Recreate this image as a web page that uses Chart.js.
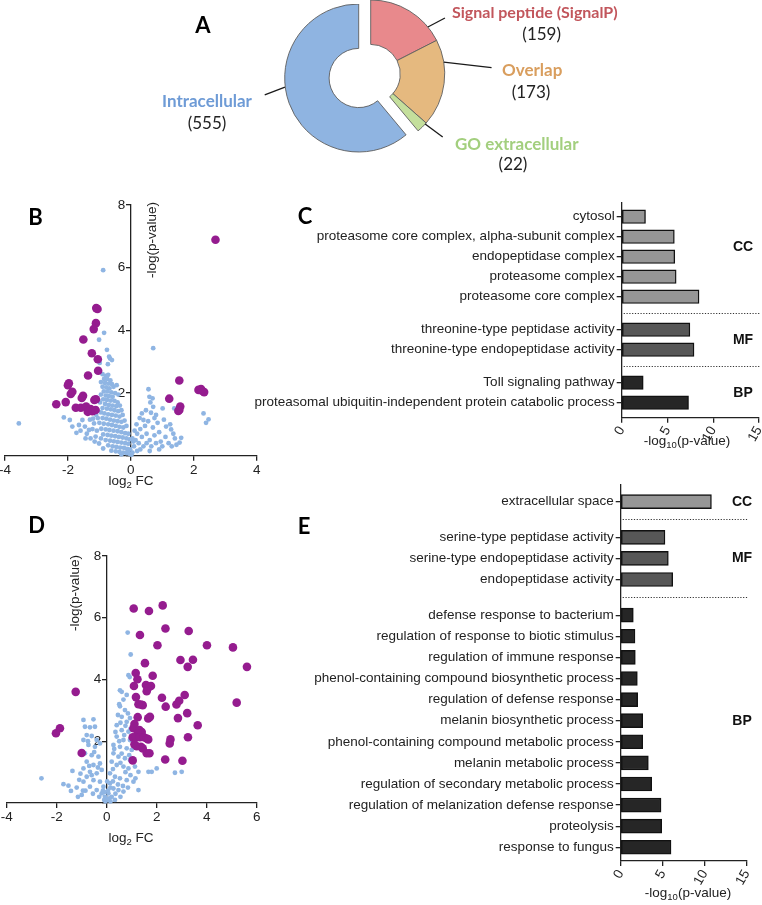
<!DOCTYPE html>
<html>
<head>
<meta charset="utf-8">
<script src="https://cdn.jsdelivr.net/npm/chart.js@4.4.0/dist/chart.umd.min.js"></script>
<style>
html,body{margin:0;padding:0;background:#fff;}
body{width:762px;height:905px;position:relative;overflow:hidden;font-family:"Liberation Sans",Arial,Helvetica,sans-serif;}
canvas{position:absolute;}
.lbl{position:absolute;white-space:nowrap;line-height:1;}
.ax{font-family:"Liberation Sans",Arial,sans-serif;font-size:13.5px;color:#222;}
.ax sub{font-size:9.5px;vertical-align:-3px;line-height:0;}
.pl{font-family:Lato,"Open Sans",sans-serif;font-weight:700;font-size:22px;color:#000;}
.dl{font-family:Lato,"Open Sans",sans-serif;font-weight:700;font-size:17px;}
.dc{font-family:Lato,"Open Sans",sans-serif;font-weight:400;font-size:17px;color:#222;}
</style>
</head>
<body>
<script>
// ---------------- DATA ----------------
// Panel A
const donutLabels = ['Signal peptide (SignalP)', 'Overlap', 'GO extracellular', 'Intracellular'];
const donutCounts = [159, 173, 22, 555];

// Panel B volcano: [log2 FC, -log(p)]
const bSigPts = [
  [2.69,6.89],[-1.10,4.71],[-1.06,4.68],[-1.11,4.23],[-1.18,4.04],[-1.51,3.71],[-1.24,3.27],[-1.05,3.08],
  [-1.04,2.71],[-1.36,2.56],[-1.97,2.31],[-2.00,2.25],[-1.86,2.04],[-1.91,1.97],[-1.52,1.91],[-1.56,1.84],
  [-1.11,1.80],[-1.16,1.78],[-2.37,1.64],[-2.07,1.71],[-1.75,1.53],[-1.59,1.53],[-1.42,1.57],[-1.28,1.49],
  [-1.37,1.40],[-1.22,1.42],[-1.12,1.46],[1.54,2.40],[1.22,1.82],[1.57,1.57],[1.54,1.46],[1.51,1.43],
  [2.15,2.10],[2.23,2.13],[2.33,2.03],[2.26,2.07]
];
const bOtherPts = [
  [-0.88,5.92],[-0.85,3.92],[-1.01,3.70],[0.71,3.43],[-0.76,3.38],[-0.69,3.16],[-0.66,3.10],[-0.99,2.96],[-0.73,2.92],[-0.60,3.05],
  [-0.90,2.60],[-0.80,2.55],[-0.72,2.58],[-0.85,2.45],[-0.75,2.45],[-0.65,2.40],[-0.95,2.35],[-0.82,2.32],[-0.70,2.30],[-0.60,2.28],
  [-0.90,2.20],[-0.78,2.18],[-0.68,2.15],[-0.55,2.20],[-0.45,2.25],[-0.86,2.05],[-0.74,2.05],[-0.62,2.02],[-0.50,2.00],[-0.95,1.95],
  [-0.80,1.92],[-0.70,1.90],[-0.58,1.88],[-0.40,1.95],[-0.88,1.80],[-0.76,1.78],[-0.64,1.76],[-0.52,1.75],[-0.42,1.70],[-0.98,1.70],
  [-0.82,1.65],[-0.70,1.62],[-0.58,1.60],[-0.46,1.58],[-0.35,1.60],[-0.90,1.52],[-0.76,1.50],[-0.64,1.48],[-0.52,1.45],[-0.40,1.42],
  [-0.30,1.45],[-0.95,1.38],[-0.84,1.35],[-0.72,1.32],[-0.60,1.30],[-0.48,1.28],[-0.36,1.25],[-0.26,1.30],[-0.90,1.20],[-0.78,1.18],
  [-0.66,1.15],[-0.54,1.12],[-0.42,1.10],[-0.30,1.08],[-0.20,1.12],[-1.00,1.05],[-0.86,1.02],[-0.72,1.00],[-0.60,0.98],[-0.48,0.95],
  [-0.36,0.92],[-0.24,0.90],[-0.14,0.95],[-0.94,0.86],[-0.80,0.84],[-0.68,0.82],[-0.55,0.80],[-0.42,0.78],[-0.30,0.75],[-0.18,0.72],
  [-0.08,0.70],[-0.88,0.68],[-0.74,0.66],[-0.62,0.64],[-0.50,0.62],[-0.38,0.60],[-0.26,0.58],[-0.14,0.55],[-0.04,0.52],[-0.80,0.50],
  [-0.66,0.48],[-0.54,0.46],[-0.42,0.44],[-0.30,0.42],[-0.18,0.40],[-0.08,0.38],[-0.72,0.33],[-0.58,0.30],[-0.46,0.28],[-0.34,0.26],
  [-0.22,0.25],[-0.12,0.22],[-0.02,0.20],[-0.62,0.16],[-0.48,0.14],[-0.36,0.12],[-0.24,0.10],[-0.14,0.08],[-0.05,0.06],[0.02,0.03],
  [-0.30,0.04],[-0.10,0.15],[0.05,0.10],
  [-3.56,1.03],[-2.13,1.22],[-1.94,1.14],[-1.86,0.93],[-1.73,0.73],[-1.65,0.98],[-1.54,1.14],[-1.46,0.93],[-1.44,0.55],[-1.28,0.55],
  [-1.33,0.82],[-1.17,1.03],[-1.12,0.61],[-1.01,0.39],[-0.88,0.23],[-1.60,0.80],[-1.40,0.70],[-1.22,0.85],[-1.08,0.80],[-1.20,1.18],
  [-1.10,1.30],[-1.30,1.15],[-1.05,1.20],[-1.15,0.45],[-0.95,0.55],
  [0.56,2.12],[0.59,1.88],[0.69,1.83],[0.71,1.56],[0.64,1.37],[0.80,1.30],[1.01,1.51],[1.38,1.51],[0.40,1.14],[1.12,0.93],[1.28,0.84],
  [1.40,0.55],[1.60,0.57],[2.31,1.35],[2.47,1.16],[2.39,1.05],[0.10,0.30],[0.15,0.50],[0.20,0.70],[0.25,0.40],[0.30,0.85],[0.35,0.60],
  [0.45,0.95],[0.50,0.70],[0.55,1.10],[0.60,0.50],[0.70,0.90],[0.75,0.65],[0.85,1.05],[0.90,0.75],[0.95,0.45],[1.05,1.15],[1.10,0.60],
  [1.20,0.40],[1.25,1.00],[1.35,0.70],[1.45,0.35],[0.65,0.30],[0.40,0.30],[0.20,0.15],[0.30,0.20],[0.50,0.40],[0.80,0.40],[1.00,0.30],
  [0.12,0.80],[0.18,1.00],[0.28,1.20],[0.05,0.55],[0.08,0.45],[0.35,1.35],[0.48,1.45],[0.62,1.70],[0.75,1.20],[1.55,0.42],[1.30,0.30],
  [0.90,0.20],[0.60,0.15]
];
const bXTicks = [-4, -2, 0, 2, 4];

// Panel D volcano
const dSigPts = [
  [-1.24,3.60],[-2.03,2.26],[-1.87,2.42],[-1.00,1.62],
  [1.08,6.30],[1.69,6.22],[2.24,6.40],[1.33,5.44],[2.35,5.65],[3.28,5.57],[2.03,5.11],[4.01,5.11],[5.05,5.04],
  [1.53,4.53],[2.95,4.63],[3.45,4.64],[3.24,4.41],[5.61,4.41],[1.16,4.21],[1.84,4.12],[1.23,4.01],[1.09,3.79],
  [1.57,3.82],[1.77,3.79],[1.64,3.71],[1.60,3.62],[1.17,3.43],[1.36,3.19],[1.44,3.17],[1.27,3.20],[2.21,3.41],
  [2.36,3.12],[2.79,3.19],[2.90,3.31],[3.12,3.50],[5.20,3.25],[3.22,2.91],[1.24,2.78],[1.73,2.79],[1.66,2.74],
  [2.85,2.75],[1.11,2.56],[1.07,2.42],[3.64,2.52],[1.31,2.36],[1.40,2.30],[1.24,2.26],[1.04,2.13],[1.17,2.13],
  [1.33,2.13],[1.49,2.13],[1.60,2.09],[1.66,2.06],[2.55,2.06],[2.52,1.93],[3.25,2.13],[1.11,1.90],[1.20,1.84],
  [1.37,1.82],[1.44,1.77],[1.60,1.61],[1.71,1.61],[1.04,1.38],[2.34,1.41],[3.03,1.37]
];
const dOtherPts = [
  [0.84,5.52],[0.96,4.81],[0.87,4.14],[0.92,4.08],[0.53,3.65],[0.60,3.60],[0.80,3.50],[0.67,3.35],[0.53,3.13],[0.73,3.01],[0.50,3.20],
  [0.60,2.79],[0.85,2.90],[0.93,2.75],[0.45,2.85],[0.80,2.63],[0.40,2.52],[0.75,2.50],[0.95,2.40],[0.55,2.60],[0.60,2.36],[0.87,2.31],
  [0.40,2.15],[0.67,2.04],[0.93,2.04],[0.70,2.20],[0.35,2.30],[0.27,1.88],[0.53,1.82],[0.80,1.77],[1.00,1.72],[0.50,2.00],[0.30,1.75],
  [0.27,1.61],[0.47,1.50],[0.73,1.45],[0.93,1.39],[0.60,1.60],[0.90,1.55],[0.20,1.34],[0.40,1.23],[0.67,1.18],[0.87,1.12],[1.13,1.18],
  [0.55,1.30],[0.25,1.10],[1.27,1.01],[1.67,1.01],[1.80,1.01],[2.00,1.12],[2.73,0.98],[3.00,1.01],[0.13,0.96],[0.33,0.85],[0.53,0.80],
  [0.80,0.74],[1.07,0.69],[0.75,1.00],[0.95,0.90],[1.15,0.80],[1.27,0.42],[0.13,0.64],[0.27,0.47],[0.47,0.42],[0.67,0.37],[0.45,0.60],
  [0.65,0.55],[0.85,0.50],[0.07,0.31],[0.20,0.20],[0.33,0.10],[0.00,0.10],[0.35,0.30],[0.55,0.20],[0.15,0.50],[0.10,0.15],[0.25,0.70],
  [0.15,0.05],[-0.05,0.05],[0.05,0.40],[-0.10,0.10],[0.02,0.70],[-0.15,0.40],
  [-0.93,2.69],[-0.53,2.71],[-0.87,2.47],[-0.67,2.45],[-0.47,2.47],[-0.80,2.20],[-0.60,2.17],[-0.93,2.04],[-0.40,2.04],[-0.73,1.88],
  [-0.47,1.82],[-0.27,1.93],[-0.87,1.61],[-0.60,1.55],[-0.33,1.50],[-0.80,1.34],[-0.53,1.23],[-0.27,1.28],[-0.93,1.12],[-0.67,1.01],
  [-0.40,0.96],[-0.20,1.07],[-0.80,0.85],[-0.53,0.74],[-0.27,0.69],[-0.13,0.53],[-0.93,0.69],[-0.67,0.53],[-0.40,0.42],[-0.20,0.31],
  [-0.07,0.20],[-0.75,2.00],[-0.50,1.65],[-0.70,1.20],[-0.35,1.15],[-0.60,0.90],[-0.85,0.40],[-0.55,0.30],[-0.30,0.20],[-0.10,0.35],
  [-2.61,0.80],[-1.73,0.61],[-1.53,0.56],[-1.37,1.04],[-1.43,0.39],[-1.00,0.26],[-1.20,0.50],[-1.10,0.75],[-1.15,0.20],[-0.95,0.40],[-1.05,0.95]
];
const dXTicks = [-4, -2, 0, 2, 4, 6];
const volcanoYTicks = [0, 2, 4, 6, 8];

// Panel C GO enrichment
const goGroupNames = ['CC', 'MF', 'BP'];
const cTermsCC = ['cytosol', 'proteasome core complex, alpha-subunit complex', 'endopeptidase complex', 'proteasome complex', 'proteasome core complex'];
const cValsCC = [2.6, 5.75, 5.8, 5.95, 8.45];
const cTermsMF = ['threonine-type peptidase activity', 'threonine-type endopeptidase activity'];
const cValsMF = [7.45, 7.9];
const cTermsBP = ['Toll signaling pathway', 'proteasomal ubiquitin-independent protein catabolic process'];
const cValsBP = [2.35, 7.3];

// Panel E GO enrichment
const eTermsCC = ['extracellular space'];
const eValsCC = [10.8];
const eTermsMF = ['serine-type peptidase activity', 'serine-type endopeptidase activity', 'endopeptidase activity'];
const eValsMF = [5.27, 5.67, 6.19];
const eTermsBP = ['defense response to bacterium', 'regulation of response to biotic stimulus', 'regulation of immune response',
  'phenol-containing compound biosynthetic process', 'regulation of defense response', 'melanin biosynthetic process',
  'phenol-containing compound metabolic process', 'melanin metabolic process', 'regulation of secondary metabolic process',
  'regulation of melanization defense response', 'proteolysis', 'response to fungus'];
const eValsBP = [1.5, 1.7, 1.74, 1.98, 2.02, 2.62, 2.62, 3.29, 3.69, 4.8, 4.88, 5.99];
const goXTicks = [0, 5, 10, 15];

// ---------------- STYLE ----------------
const FONT = '"Liberation Sans", Arial, Helvetica, sans-serif';
Chart.defaults.font.family = FONT;
Chart.defaults.font.size = 13.5;
Chart.defaults.color = '#222';
Chart.defaults.animation = false;
Chart.defaults.responsive = false;
Chart.defaults.devicePixelRatio = 1;
Chart.defaults.plugins.legend.display = false;
Chart.defaults.plugins.tooltip.enabled = false;

const donutFill = ['#e8898c', '#e5b97f', '#c4df9c', '#8fb4e1'];
const donutText = ['#c2565c', '#d99e5e', '#a3cf7e', '#6e9bd6'];
const groupFill = ['#969696', '#575757', '#262626'];
const AXC = '#222';

function mkCanvas(left, top, w, h) {
  const c = document.createElement('canvas');
  c.width = w; c.height = h;
  c.style.left = left + 'px'; c.style.top = top + 'px';
  c.style.width = w + 'px'; c.style.height = h + 'px';
  document.body.appendChild(c);
  return c;
}
function addText(html, x, y, o) {
  o = o || {};
  const d = document.createElement('div');
  d.className = 'lbl ' + (o.cls || '');
  d.innerHTML = html;
  d.style.left = x + 'px'; d.style.top = y + 'px';
  if (o.color) d.style.color = o.color;
  if (o.size) d.style.fontSize = o.size + 'px';
  const tx = o.anchor === 'left' ? '0' : '-50%';
  d.style.transform = 'translate(' + tx + ',-50%)' + (o.rotate ? ' rotate(' + o.rotate + 'deg)' : '');
  document.body.appendChild(d);
}

// ---------------- PANEL A ----------------
const total = donutCounts.reduce((a, b) => a + b, 0);
const explodeIdx = 3, explodeDist = 13;
let before = 0; for (let i = 0; i < explodeIdx; i++) before += donutCounts[i];
const midAng = -Math.PI / 2 + (before + donutCounts[explodeIdx] / 2) / total * 2 * Math.PI;
const exDx = Math.cos(midAng) * explodeDist, exDy = Math.sin(midAng) * explodeDist;

const leaderSpecs = [
  {i: 0, a1: 50.6, a2: 53, r2: 93},
  {i: 1, a1: 80.8, a2: 87, r2: 121},
  {i: 2, a1: 132.6, a2: 131.2, r2: 95.7},
  {i: 3, a1: 263.3, a2: 260, r2: 95.2}
];
const leaderPlugin = {
  id: 'leaders',
  afterDatasetsDraw(chart) {
    const ctx = chart.ctx, arcs = chart.getDatasetMeta(0).data;
    ctx.save(); ctx.strokeStyle = '#1a1a1a'; ctx.lineWidth = 1.3;
    leaderSpecs.forEach(s => {
      const arc = arcs[s.i];
      let cx = arc.x, cy = arc.y;
      if (s.i === explodeIdx) { cx += exDx; cy += exDy; }
      const p1 = (s.a1 - 90) * Math.PI / 180, p2 = (s.a2 - 90) * Math.PI / 180;
      const R = arc.outerRadius;
      ctx.beginPath();
      ctx.moveTo(cx + R * Math.cos(p1), cy + R * Math.sin(p1));
      ctx.lineTo(cx + s.r2 * Math.cos(p2), cy + s.r2 * Math.sin(p2));
      ctx.stroke();
    });
    ctx.restore();
  }
};
function donutConfig(show, plugins) {
  const T = 'rgba(0,0,0,0)';
  return {
    type: 'doughnut',
    data: {labels: donutLabels, datasets: [{
      data: donutCounts,
      backgroundColor: donutFill.map((c, i) => show(i) ? c : T),
      borderColor: donutFill.map((c, i) => show(i) ? '#5e5e5e' : T),
      borderWidth: 0.9, radius: 74, cutout: '40%'
    }]},
    options: {radius: 74, cutout: '40%', layout: {padding: {left: 0, right: 20.6, top: 0, bottom: 37}}},
    plugins: plugins || []
  };
}
new Chart(mkCanvas(0, 0, 762, 185), donutConfig(i => i !== explodeIdx, [leaderPlugin]));
new Chart(mkCanvas(exDx, exDy, 762, 185), donutConfig(i => i === explodeIdx));

addText(donutLabels[0], 452, 12, {anchor: 'left', cls: 'dl', color: donutText[0], size: 16});
addText('(' + donutCounts[0] + ')', 541.7, 33, {cls: 'dc'});
addText(donutLabels[1], 502, 69, {anchor: 'left', cls: 'dl', color: donutText[1]});
addText('(' + donutCounts[1] + ')', 531, 91, {cls: 'dc'});
addText(donutLabels[2], 455, 142.5, {anchor: 'left', cls: 'dl', color: donutText[2]});
addText('(' + donutCounts[2] + ')', 513, 163, {cls: 'dc'});
addText(donutLabels[3], 207, 100, {cls: 'dl', color: donutText[3]});
addText('(' + donutCounts[3] + ')', 207, 122, {cls: 'dc'});

// ---------------- VOLCANO (B, D) ----------------
const yLabelPlugin = {
  id: 'yLab',
  beforeDatasetsDraw(chart) {
    const ctx = chart.ctx, y = chart.scales.y, x = chart.scales.x;
    const ax = x.getPixelForValue(0);
    ctx.save();
    ctx.font = '13.5px ' + FONT; ctx.fillStyle = '#222';
    ctx.textAlign = 'right'; ctx.textBaseline = 'middle';
    y.ticks.forEach(t => { if (t.value !== 0) ctx.fillText(String(t.value), ax - 5.5, y.getPixelForValue(t.value)); });
    ctx.restore();
  }
};
function volcano(canvas, other, sig, xTicks, padding) {
  return new Chart(canvas, {
    type: 'scatter',
    data: {datasets: [
      {data: sig.map(p => ({x: p[0], y: p[1]})), backgroundColor: '#951c8f', pointRadius: 4.3, borderWidth: 0, order: 0, clip: false},
      {data: other.map(p => ({x: p[0], y: p[1]})), backgroundColor: '#8fb5e3', pointRadius: 2.4, borderWidth: 0, order: 1, clip: false}
    ]},
    options: {
      layout: {padding: padding},
      scales: {
        x: {type: 'linear', min: xTicks[0], max: xTicks[xTicks.length - 1],
            afterBuildTicks: s => { s.ticks = xTicks.map(v => ({value: v})); },
            ticks: {padding: 1, color: '#222', autoSkip: false},
            grid: {drawOnChartArea: false, tickLength: 5, color: AXC, lineWidth: 1.3},
            border: {color: AXC, width: 1.3},
            afterFit: s => { s.height = 25; }},
        y: {type: 'linear', min: volcanoYTicks[0], max: volcanoYTicks[volcanoYTicks.length - 1], position: {x: 0},
            afterBuildTicks: s => { s.ticks = volcanoYTicks.map(v => ({value: v})); },
            ticks: {display: false},
            grid: {drawOnChartArea: false, tickLength: 4, color: AXC, lineWidth: 1.3},
            border: {color: AXC, width: 1.3}}
      }
    },
    plugins: [yLabelPlugin]
  });
}
volcano(mkCanvas(-20, 180, 300, 310), bOtherPts, bSigPts, bXTicks, {left: 25, right: 23.3, top: 25, bottom: 9.3});
volcano(mkCanvas(-20, 540, 300, 300), dOtherPts, dSigPts, dXTicks, {left: 26.7, right: 23.3, top: 16, bottom: 12});

addText('log<sub>2</sub> FC', 131, 481, {cls: 'ax'});
addText('-log(p-value)', 151.5, 239.5, {cls: 'ax', rotate: -90});
addText('log<sub>2</sub> FC', 131, 838, {cls: 'ax'});
addText('-log(p-value)', 75, 592.5, {cls: 'ax', rotate: -90});

// ---------------- GO BAR CHARTS (C, E) ----------------
const goDecor = {
  id: 'goDecor',
  afterDraw(chart, args, opts) {
    const ctx = chart.ctx, ca = chart.chartArea, y = chart.scales.y;
    ctx.save();
    ctx.strokeStyle = '#333'; ctx.lineWidth = 1; ctx.setLineDash([1.2, 1.6]);
    opts.seps.forEach(s => {
      const py = Math.round(y.getPixelForValue(s)) + 0.5;
      ctx.beginPath(); ctx.moveTo(ca.left + 2, py); ctx.lineTo(ca.right + 1, py); ctx.stroke();
    });
    ctx.setLineDash([]);
    ctx.fillStyle = '#111'; ctx.font = 'bold 14px ' + FONT;
    ctx.textAlign = 'center'; ctx.textBaseline = 'middle';
    opts.labels.forEach(l => ctx.fillText(l.name, opts.labelX, y.getPixelForValue(l.pos)));
    ctx.restore();
  }
};
function goChart(canvas, termGroups, valGroups, cfg) {
  const rows = [], seps = [], labels = [];
  let pos = 0;
  termGroups.forEach((terms, gi) => {
    if (gi > 0) { seps.push(pos - 1 + (1 + cfg.gap) / 2); pos += cfg.gap; }
    const first = pos;
    terms.forEach((t, i) => { rows.push({pos: pos, term: t, value: valGroups[gi][i], color: groupFill[gi]}); pos += 1; });
    labels.push({name: goGroupNames[gi], pos: first + cfg.labelRows[gi]});
  });
  return new Chart(canvas, {
    type: 'bar',
    data: {datasets: [{
      data: rows.map(r => ({x: r.value, y: r.pos})),
      backgroundColor: rows.map(r => r.color),
      borderColor: '#111', borderWidth: 1.4, borderSkipped: false,
      barThickness: cfg.barThickness
    }]},
    options: {
      indexAxis: 'y',
      layout: {padding: cfg.padding},
      scales: {
        x: {type: 'linear', min: goXTicks[0], max: goXTicks[goXTicks.length - 1], offset: false,
            afterBuildTicks: s => { s.ticks = goXTicks.map(v => ({value: v})); },
            ticks: {minRotation: 60, maxRotation: 60, padding: 1, color: '#222', autoSkip: false},
            grid: {drawOnChartArea: false, tickLength: 5, color: AXC, lineWidth: 1.3, offset: false},
            border: {color: AXC, width: 1.3},
            afterFit: s => { s.height = cfg.xAxisH; }},
        y: {type: 'linear', reverse: true, min: -cfg.padStart, max: pos - 1 + cfg.padEnd, offset: false,
            afterBuildTicks: s => { s.ticks = rows.map(r => ({value: r.pos})); },
            ticks: {autoSkip: false, padding: 2, color: '#222', callback: (v, i) => rows[i] ? rows[i].term : ''},
            grid: {drawOnChartArea: false, tickLength: 5, color: AXC, lineWidth: 1.3, offset: false},
            border: {color: AXC, width: 1.3},
            afterFit: s => { s.width = cfg.yAxisW; }}
      },
      plugins: {goDecor: {seps: seps, labels: labels, labelX: cfg.labelX}}
    },
    plugins: [goDecor]
  });
}
goChart(mkCanvas(0, 170, 800, 288), [cTermsCC, cTermsMF, cTermsBP], [cValsCC, cValsMF, cValsBP], {
  gap: 0.65, padStart: 0.685, padEnd: 0.75, barThickness: 13.5, labelRows: [1.5, 0.5, 0.5], labelX: 743,
  yAxisW: 621.7, xAxisH: 40.3, padding: {left: 0, right: 41, top: 33, bottom: 0}
});
goChart(mkCanvas(0, 460, 800, 441), [eTermsCC, eTermsMF, eTermsBP], [eValsCC, eValsMF, eValsBP], {
  gap: 0.69, padStart: 0.79, padEnd: 0.65, barThickness: 14, labelRows: [0, 1, 5], labelX: 742,
  yAxisW: 620.7, xAxisH: 40, padding: {left: 0, right: 53.3, top: 25, bottom: 0}
});
addText('-log<sub>10</sub>(p-value)', 687, 441, {cls: 'ax'});
addText('-log<sub>10</sub>(p-value)', 688, 893, {cls: 'ax'});

// ---------------- PANEL LETTERS ----------------
addText('A', 203, 25, {cls: 'pl'});
addText('B', 35.5, 217, {cls: 'pl'});
addText('C', 305, 216, {cls: 'pl'});
addText('D', 36.5, 525, {cls: 'pl'});
addText('E', 304, 526, {cls: 'pl'});
</script>
</body>
</html>
